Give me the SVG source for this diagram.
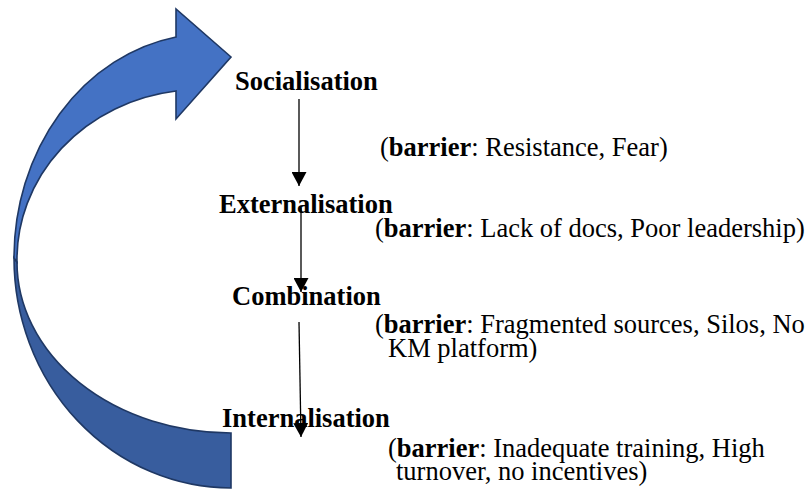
<svg xmlns="http://www.w3.org/2000/svg" width="808" height="492" viewBox="0 0 808 492">
<defs>
<style>
text{font-family:"Liberation Serif",Tinos,"Times New Roman","DejaVu Serif",serif;font-size:26.5px;fill:#000}
.lbl{font-weight:bold}
.b{font-weight:bold}
.conn{stroke:#000;stroke-width:1.3;fill:none}
.band{stroke:#1F3864;stroke-width:1.6;stroke-linejoin:miter}
</style>
<marker id="ah" viewBox="0 0 14 15" refX="14" refY="7.5" markerWidth="14" markerHeight="15" markerUnits="userSpaceOnUse" orient="auto">
<path d="M0,0 L14,7.5 L0,15 Z" fill="#000"/>
</marker>
</defs>
<rect width="808" height="492" fill="#fff"/>
<g id="cycle-arrow">
<path class="band" fill="#385D9E" d="M231,488 A217,230 0 0 1 14,258 L17,262 A214,171 0 0 0 231,433 Z"/>
<path class="band" fill="#4472C4" d="M14,258 A196,224 0 0 1 176,37 L176,9 L231,57 L176,119 L176,91 A183,170 0 0 0 17,262 Z"/>
</g>
<g id="socialisation"><text class="lbl" font-family="Liberation Serif, serif" x="235" y="90">Socialisation</text></g>
<g id="externalisation"><text class="lbl" font-family="Liberation Serif, serif" x="219" y="213">Externalisation</text></g>
<g id="combination"><text class="lbl" font-family="Liberation Serif, serif" x="232" y="305">Combination</text></g>
<g id="internalisation"><text class="lbl" font-family="Liberation Serif, serif" x="222" y="427">Internalisation</text></g>
<g id="barrier-socialisation"><text font-family="Liberation Serif, serif" x="380" y="156">(<tspan class="b">barrier</tspan>: Resistance, Fear)</text></g>
<g id="barrier-externalisation"><text font-family="Liberation Serif, serif" x="375" y="237">(<tspan class="b">barrier</tspan>: Lack of docs, Poor leadership)</text></g>
<g id="barrier-combination"><text font-family="Liberation Serif, serif" x="375" y="333">(<tspan class="b">barrier</tspan>: Fragmented sources, Silos, No</text><text font-family="Liberation Serif, serif" x="388" y="357">KM platform)</text></g>
<g id="barrier-internalisation"><text font-family="Liberation Serif, serif" x="388" y="457">(<tspan class="b">barrier</tspan>: Inadequate training, High</text><text font-family="Liberation Serif, serif" x="396" y="480">turnover, no incentives)</text></g>
<g id="connectors">
<line class="conn" x1="299" y1="99" x2="299" y2="186" marker-end="url(#ah)"/>
<line class="conn" x1="301" y1="208" x2="301" y2="292" marker-end="url(#ah)"/>
<line class="conn" x1="299" y1="322" x2="301" y2="437" marker-end="url(#ah)"/>
</g>
</svg>
